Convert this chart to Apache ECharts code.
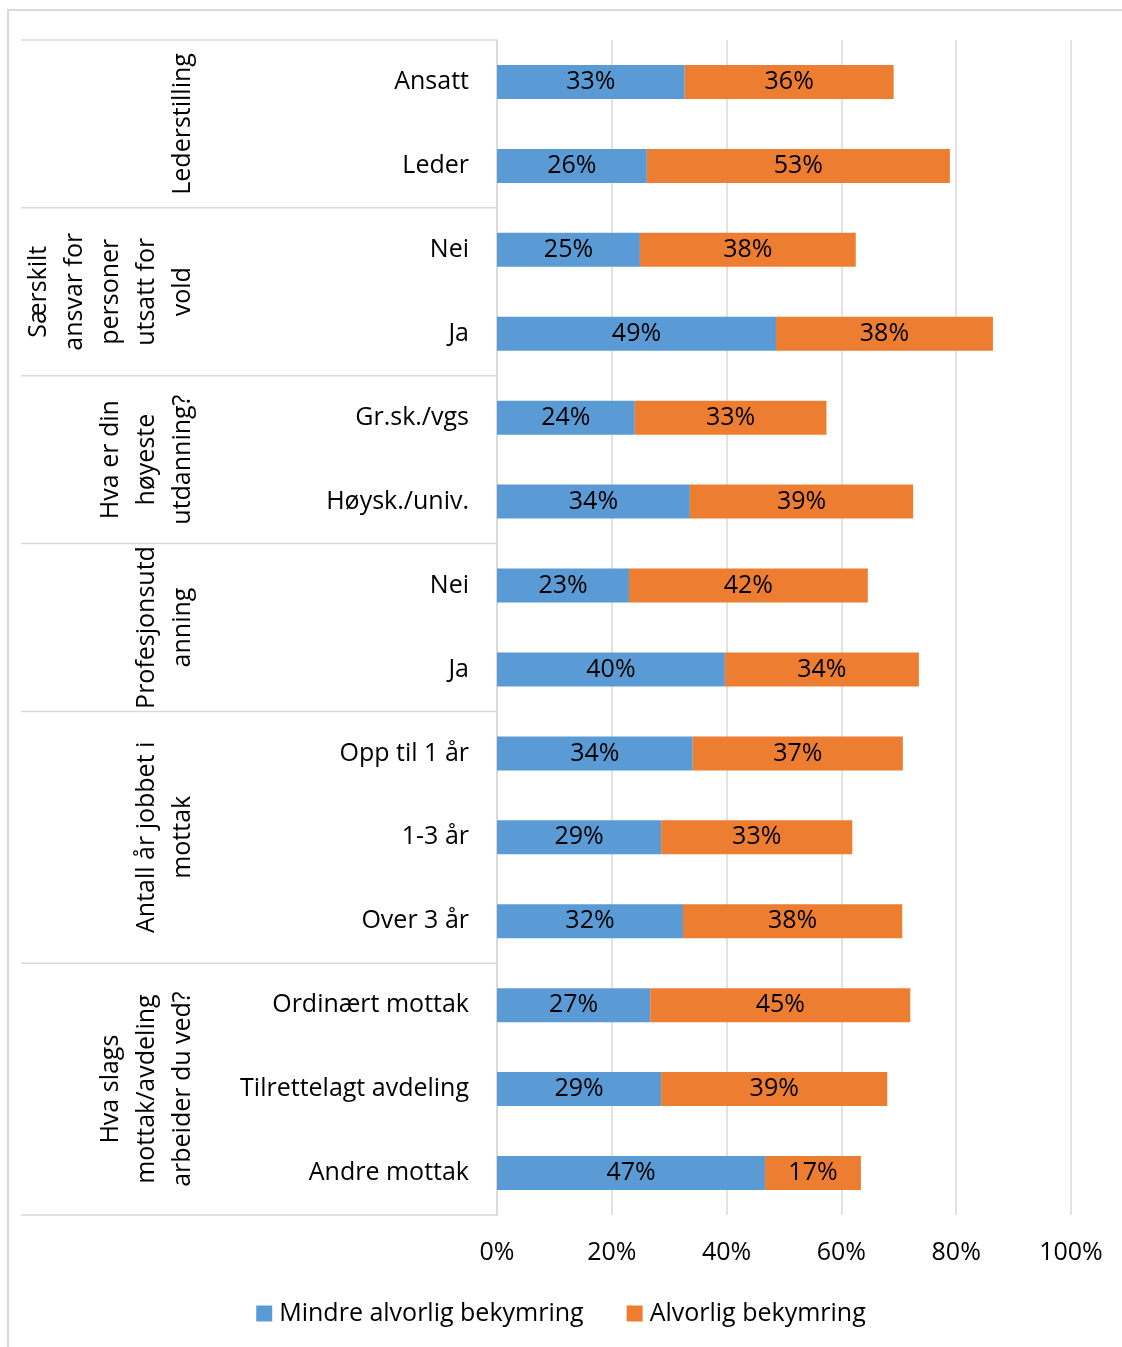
<!DOCTYPE html>
<html>
<head>
<meta charset="utf-8">
<script src="https://cdn.jsdelivr.net/npm/echarts@6/dist/echarts.min.js"></script>
<style>
  html, body {margin: 0; padding: 0; background: #fff;}
  #main {width: 1122px; height: 1347px;}
</style>
</head>
<body>
<div id="main"></div>
<script>
var kategorier = ["Ansatt", "Leder", "Nei", "Ja", "Gr.sk./vgs", "Høysk./univ.", "Nei", "Ja",
  "Opp til 1 år", "1-3 år", "Over 3 år", "Ordinært mottak", "Tilrettelagt avdeling", "Andre mottak"];
var mindre = [32.7, 26.1, 24.9, 48.6, 24.0, 33.6, 23.0, 39.7, 34.1, 28.6, 32.4, 26.7, 28.6, 46.7];
var alvorlig = [36.4, 52.8, 37.6, 37.8, 33.4, 38.9, 41.6, 33.8, 36.6, 33.3, 38.2, 45.3, 39.4, 16.7];
var grupper = ["Lederstilling", "Særskilt\nansvar for\npersoner\nutsatt for\nvold", "Hva er din\nhøyeste\nutdanning?",
  "Profesjonsutd\nanning", "Antall år jobbet i\nmottak", "Hva slags\nmottak/avdeling\narbeider du ved?"];
var gruppeAntall = [2, 2, 2, 2, 3, 3];
var xTicks = [0, 20, 40, 60, 80, 100];

var font = "'Open Sans', sans-serif";
var fs = 25;
var chart = echarts.init(document.getElementById("main"));

function lbl(p) { return Math.round(p.value) + "%"; }

var option = {
  backgroundColor: "#fff",
  textStyle: {fontFamily: font},
  legend: {
    top: 1296, left: "center",
    itemWidth: 16, itemHeight: 16, itemGap: 43,
    icon: "rect",
    textStyle: {fontSize: fs, color: "#000", fontFamily: font, padding: [0, 0, 0, 2]},
    data: ["Mindre alvorlig bekymring", "Alvorlig bekymring"]
  },
  grid: {left: 497, right: 51, top: 40, bottom: 132},
  xAxis: {
    type: "value", min: xTicks[0], max: xTicks[xTicks.length - 1], interval: 20,
    axisLine: {show: false}, axisTick: {show: false},
    axisLabel: {formatter: "{value}%", fontSize: fs, color: "#000", margin: 25, fontFamily: font},
    splitLine: {lineStyle: {color: "#d9d9d9", width: 1.5}}
  },
  yAxis: {
    type: "category", inverse: true, data: kategorier,
    axisTick: {show: false},
    axisLine: {lineStyle: {color: "#d9d9d9", width: 1.5}},
    axisLabel: {fontSize: fs, color: "#000", margin: 28, fontFamily: font}
  },
  series: [{
    name: "Mindre alvorlig bekymring", type: "bar", stack: "a", barWidth: 34,
    itemStyle: {color: "#5b9bd5"},
    label: {show: true, position: "inside", formatter: lbl, fontSize: fs, color: "#000", fontFamily: font},
    data: mindre
  }, {
    name: "Alvorlig bekymring", type: "bar", stack: "a", barWidth: 34,
    itemStyle: {color: "#ed7d31"},
    label: {show: true, position: "inside", formatter: lbl, fontSize: fs, color: "#000", fontFamily: font},
    data: alvorlig
  }]
};
chart.setOption(option);

// gruppeetiketter og skillelinjer
var c0 = chart.convertToPixel({yAxisIndex: 0}, 0);
var c1 = chart.convertToPixel({yAxisIndex: 0}, 1);
var band = c1 - c0;
var top0 = c0 - band / 2;
var gx = chart.convertToPixel({xAxisIndex: 0}, 0);
var els = [{
  type: "rect", silent: true, z: -1,
  shape: {x: 8, y: 10, width: 1300, height: 1500},
  style: {fill: null, stroke: "#d9d9d9", lineWidth: 2}
}];
var start = 0;
els.push({type: "line", shape: {x1: 21, y1: top0, x2: gx, y2: top0}, style: {stroke: "#d9d9d9", lineWidth: 1.5}});
for (var i = 0; i < grupper.length; i++) {
  var yTop = top0 + start * band;
  var yEnd = top0 + (start + gruppeAntall[i]) * band;
  els.push({type: "line", shape: {x1: 21, y1: yEnd, x2: gx, y2: yEnd}, style: {stroke: "#d9d9d9", lineWidth: 1.5}});
  els.push({
    type: "text", x: 201, y: (yTop + yEnd) / 2, rotation: Math.PI / 2,
    style: {text: grupper[i], font: fs + "px " + font, fill: "#000", align: "center", verticalAlign: "bottom", lineHeight: 36}
  });
  start += gruppeAntall[i];
}
chart.setOption({graphic: els});
</script>
</body>
</html>
